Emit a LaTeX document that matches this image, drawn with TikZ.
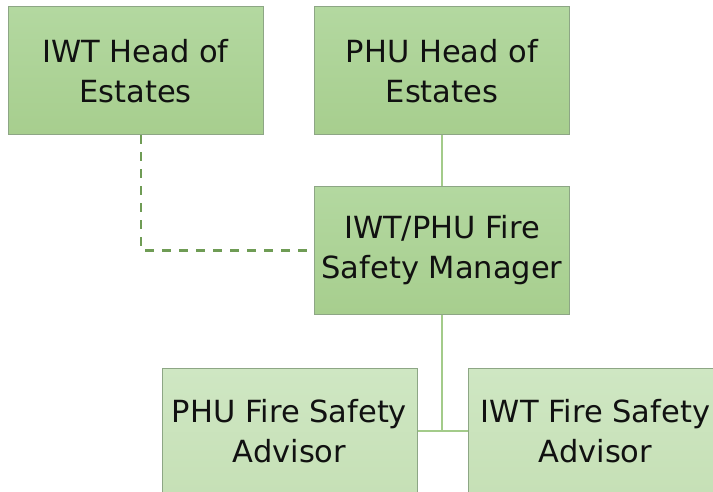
\documentclass[tikz,border=0pt]{standalone}
\usepackage{fontspec}
\setmainfont{DejaVu Sans}
\definecolor{boxtopA}{HTML}{B3D8A0}
\definecolor{boxbotA}{HTML}{A7CE8E}
\definecolor{boxtopB}{HTML}{CFE7C3}
\definecolor{boxbotB}{HTML}{C6E0B6}
\definecolor{boxedge}{HTML}{8DA685}
\definecolor{solidline}{HTML}{A3CB8A}
\definecolor{dashline}{HTML}{6F9C55}
\definecolor{txt}{HTML}{111111}
\tikzset{
  orgbox/.style={rectangle, draw=boxedge, line width=1pt, minimum width=255pt,
    minimum height=128pt, inner sep=0pt, align=center, text=txt,
    font=\fontsize{30.5}{40}\selectfont},
  darkbox/.style={orgbox, top color=boxtopA, bottom color=boxbotA},
  lightbox/.style={orgbox, top color=boxtopB, bottom color=boxbotB},
  solidconn/.style={draw=solidline, line width=2pt},
  dashconn/.style={draw=dashline, line width=2.4pt, dash pattern=on 9pt off 8pt}
}
\begin{document}
\begin{tikzpicture}[x=1pt,y=-1pt]
\useasboundingbox (0,0) rectangle (713,492);
\node[darkbox] (iwt) at (135.5,71) {IWT Head of\\Estates};
\node[darkbox] (phu) at (442,71) {PHU Head of\\Estates};
\node[darkbox, minimum height=127pt] (mgr) at (442,250.5) {IWT/PHU Fire\\Safety Manager};
\node[lightbox, minimum height=126pt] (pfsa) at (289.5,431) {PHU Fire Safety\\Advisor};
\node[lightbox, minimum height=126pt] (ifsa) at (595.5,431) {IWT Fire Safety\\Advisor};
\coordinate (dstart) at ([xshift=5.5pt]iwt.south);
\draw[solidconn] (phu.south) -- (mgr.north);
\draw[solidconn] (mgr.south) -- (mgr.south |- pfsa.east);
\draw[solidconn] (pfsa.east) -- (ifsa.west);
\draw[dashconn] (dstart) |- (mgr.west);
\end{tikzpicture}
\end{document}
